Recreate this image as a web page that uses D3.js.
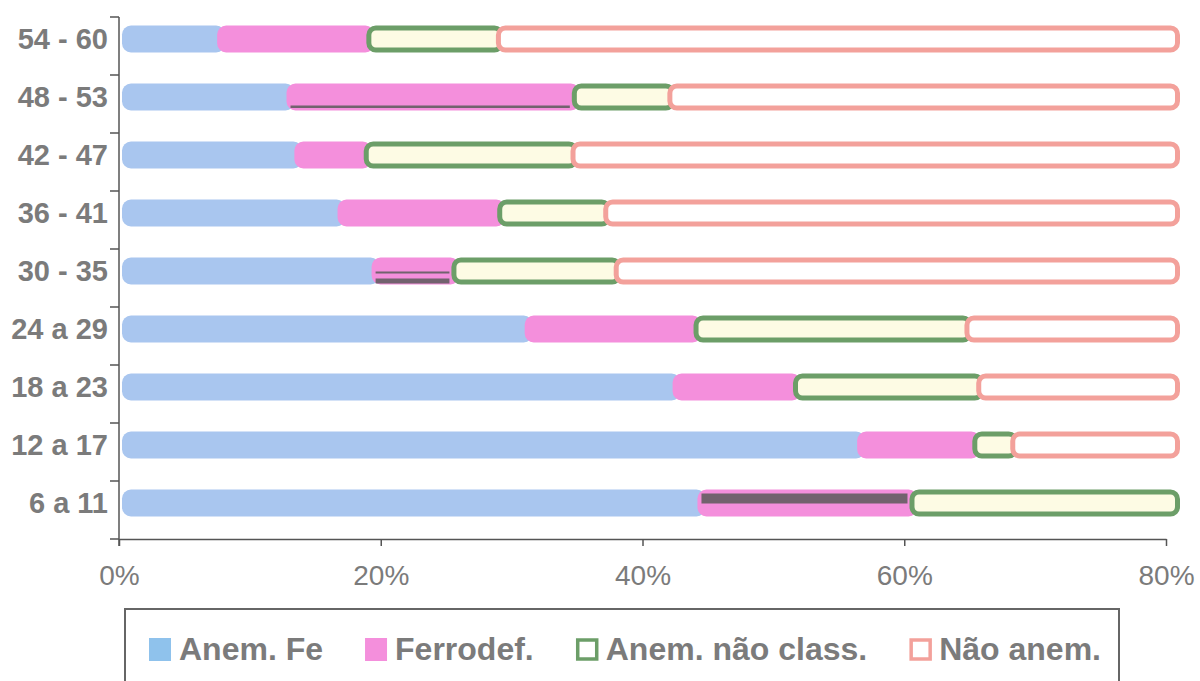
<!DOCTYPE html>
<html>
<head>
<meta charset="utf-8">
<script src="https://cdn.jsdelivr.net/npm/d3@7"></script>
<style>
  html, body { margin: 0; padding: 0; background: #fff; }
  svg { display: block; }
</style>
</head>
<body>
<svg id="chart" width="1200" height="681"></svg>
<script>
// Age groups (months), top to bottom
const categories = ["54 - 60", "48 - 53", "42 - 47", "36 - 41", "30 - 35", "24 a 29", "18 a 23", "12 a 17", "6 a 11"];

// Share of children in each group (%)
const anemFe       = [7.5, 12.8, 13.4, 16.7, 19.3, 31.0, 42.3, 56.4, 44.2];
const ferrodef     = [11.4, 21.8, 5.3, 12.2, 6.1, 12.9, 9.2, 8.8, 16.2];
const anemNaoClass = [9.9, 7.3, 15.8, 8.1, 12.4, 20.7, 14.0, 2.9, 24.8];
const naoAnem      = [71.2, 58.1, 65.5, 63.0, 62.2, 35.4, 34.5, 31.9, 14.8];

const seriesNames = ["Anem. Fe", "Ferrodef.", "Anem. não class.", "Não anem."];
const xTicks = [0, 20, 40, 60, 80];
const xMax = 80;

const seriesStyle = [
  { fill: "#a9c6ef", stroke: null },
  { fill: "#f48fdc", stroke: null },
  { fill: "#fdfbe4", stroke: "#6c9e68" },
  { fill: "#ffffff", stroke: "#f3a19b" }
];

// Dark print streaks on some of the bars
const streaks = [
  { cat: "48 - 53", series: 1, top: 22, h: 2.5 },
  { cat: "30 - 35", series: 1, top: 14, h: 2 },
  { cat: "30 - 35", series: 1, top: 21, h: 5 },
  { cat: "6 a 11",  series: 1, top: 4,  h: 10 }
];

const rows = categories.map((c, i) => ({
  cat: c,
  "Anem. Fe": anemFe[i],
  "Ferrodef.": ferrodef[i],
  "Anem. não class.": anemNaoClass[i],
  "Não anem.": naoAnem[i]
}));

const stacked = d3.stack().keys(seriesNames)(rows);

const svg = d3.select("#chart");
const textColor = "#7b7b7b";
const axisColor = "#555";
const font = "'Liberation Sans', Arial, sans-serif";

const x = d3.scaleLinear().domain([0, xMax]).range([119, 1166]);
const y = d3.scaleBand().domain(categories).range([17, 539]).padding(0);

const barH = 27;
const shiftUp = 7;
const barCenter = c => y(c) + y.bandwidth() / 2 - shiftUp;

// Bars: segments drawn in stack order so each overlaps the end of the previous
const gBars = svg.append("g");
stacked.forEach((layer, si) => {
  const st = seriesStyle[si];
  layer.forEach(d => {
    if (d[0] >= xMax) return;
    const cat = d.data.cat;
    const clipped = d[1] >= xMax;
    const x0 = x(Math.min(d[0], xMax)) + (si === 0 ? 3 : 0);
    const x1 = x(Math.min(d[1], xMax)) + (clipped ? 14 : 8);
    const top = barCenter(cat) - barH / 2;
    if (st.stroke) {
      gBars.append("rect")
        .attr("x", x0 + 2.5).attr("y", top + 2.5)
        .attr("width", Math.max(0, x1 - x0 - 5)).attr("height", barH - 5)
        .attr("rx", 7).attr("ry", 7)
        .attr("fill", st.fill).attr("stroke", st.stroke).attr("stroke-width", 5);
    } else {
      gBars.append("rect")
        .attr("x", x0).attr("y", top)
        .attr("width", x1 - x0).attr("height", barH)
        .attr("rx", 9).attr("ry", 9)
        .attr("fill", st.fill);
    }
  });
});

// streak overlays
streaks.forEach(s => {
  const d = stacked[s.series].find(e => e.data.cat === s.cat);
  const top = barCenter(s.cat) - barH / 2;
  const x0 = x(d[0]) + 4, x1 = x(Math.min(d[1], xMax)) - 2;
  gBars.append("rect")
    .attr("x", x0).attr("y", top + s.top)
    .attr("width", x1 - x0).attr("height", s.h)
    .attr("fill", "#5b5b5b").attr("opacity", 0.85);
});

// Y axis: line with ticks at category boundaries
const gY = svg.append("g");
gY.append("line")
  .attr("x1", x(0)).attr("x2", x(0))
  .attr("y1", y.range()[0]).attr("y2", y.range()[1] + 7)
  .attr("stroke", axisColor).attr("stroke-width", 1.5);
const bounds = categories.map(c => y(c)).concat([y.range()[1]]);
gY.selectAll("line.tk").data(bounds).join("line")
  .attr("class", "tk")
  .attr("x1", x(0) - 9).attr("x2", x(0))
  .attr("y1", d => d).attr("y2", d => d)
  .attr("stroke", axisColor).attr("stroke-width", 1.5);
gY.selectAll("text").data(categories).join("text")
  .attr("x", 108)
  .attr("y", c => barCenter(c) + 2)
  .attr("text-anchor", "end")
  .attr("dominant-baseline", "middle")
  .attr("font-family", font).attr("font-weight", "bold")
  .attr("font-size", 29).attr("fill", textColor)
  .text(c => c);

// X axis
const xAxis = d3.axisBottom(x)
  .tickValues(xTicks)
  .tickFormat(d => d + "%")
  .tickSize(7)
  .tickSizeOuter(0)
  .tickPadding(19);
const gX = svg.append("g")
  .attr("transform", `translate(0,${y.range()[1]})`)
  .call(xAxis);
gX.select(".domain").attr("stroke", axisColor).attr("stroke-width", 1.5);
gX.selectAll(".tick line").attr("stroke", axisColor).attr("stroke-width", 1.5);
gX.selectAll(".tick text")
  .attr("font-family", font).attr("font-size", 28)
  .attr("fill", textColor);

// Legend
const gL = svg.append("g");
gL.append("rect")
  .attr("x", 125).attr("y", 609)
  .attr("width", 994).attr("height", 100)
  .attr("fill", "none").attr("stroke", "#666").attr("stroke-width", 2);

let lx = 149;
const legendBaseline = 660;
seriesNames.forEach((name, i) => {
  const st = seriesStyle[i];
  if (st.stroke) {
    gL.append("rect")
      .attr("x", lx + 2).attr("y", 640)
      .attr("width", 19).attr("height", 19)
      .attr("fill", "#fff").attr("stroke", st.stroke).attr("stroke-width", 3.5);
  } else {
    gL.append("rect")
      .attr("x", lx).attr("y", 638)
      .attr("width", 22).attr("height", 23)
      .attr("fill", i === 0 ? "#8fc2ec" : st.fill);
  }
  const t = gL.append("text")
    .attr("x", lx + 30).attr("y", legendBaseline)
    .attr("font-family", font).attr("font-weight", "bold")
    .attr("font-size", 32).attr("fill", textColor)
    .text(name);
  lx += 30 + t.node().getComputedTextLength() + 42;
});
</script>
</body>
</html>
